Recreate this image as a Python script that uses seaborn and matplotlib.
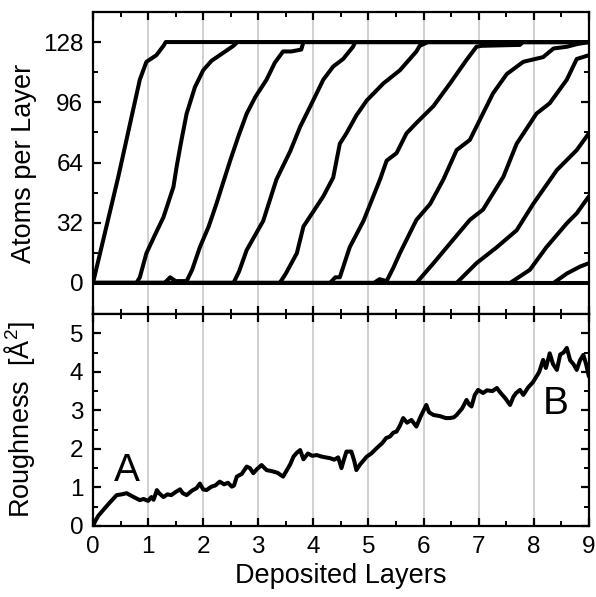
import numpy as np
import pandas as pd
import matplotlib
matplotlib.use("Agg")
import matplotlib.pyplot as plt
import seaborn as sns

# ---------------- data ----------------
layer1_x = [0, 0.46, 0.85, 0.97, 1.15, 1.28, 1.32, 9]
layer1_y = [0, 56.5, 108, 117.5, 121, 126, 128, 128]
layer2_x = [0, 0.79, 0.85, 0.97, 1.1, 1.28, 1.46, 1.52, 1.6, 1.70, 1.85, 2.0, 2.15, 2.30, 2.45, 2.55, 2.62, 2.9, 9]
layer2_y = [0, 0, 3, 15.8, 24, 35, 51, 62, 75, 90, 104, 113, 118, 121, 124, 126, 128, 128, 128]
layer3_x = [0, 1.3, 1.4, 1.5, 1.70, 1.8, 1.94, 2.1, 2.24, 2.37, 2.49, 2.64, 2.79, 2.95, 3.15, 3.3, 3.45, 3.6, 3.78, 3.82, 9]
layer3_y = [0, 0, 3, 1, 1, 7, 19, 30, 42, 54, 65, 78, 90, 99, 108, 117, 123, 123, 124, 128, 128]
layer4_x = [0, 2.55, 2.65, 2.79, 3.09, 3.33, 3.58, 3.76, 3.94, 4.18, 4.36, 4.54, 4.72, 4.76, 9]
layer4_y = [0, 0, 6, 17.5, 33, 55, 70, 83, 93.6, 108, 115, 119, 125.5, 128, 128]
layer5_x = [0, 3.39, 3.5, 3.70, 3.82, 4.0, 4.18, 4.36, 4.48, 4.60, 4.78, 4.97, 5.27, 5.57, 5.87, 5.93, 6.08, 9]
layer5_y = [0, 0, 5, 15.8, 30, 38, 46, 56, 74, 79.5, 89, 97, 106, 113, 123, 126, 128, 128]
layer6_x = [0, 4.3, 4.4, 4.48, 4.66, 4.91, 5.21, 5.33, 5.51, 5.69, 5.87, 6.18, 6.48, 6.78, 6.96, 7.05, 7.75, 7.8, 9]
layer6_y = [0, 0, 3, 3, 19, 33, 55, 65, 69, 79.5, 85, 94, 106, 118.5, 125.5, 126, 126.5, 128, 128]
layer7_x = [0, 5.1, 5.2, 5.33, 5.45, 5.57, 5.87, 6.12, 6.36, 6.60, 6.84, 7.02, 7.26, 7.51, 7.81, 8.17, 8.36, 8.6, 8.8, 9]
layer7_y = [0, 0, 2, 1, 8, 15.8, 33.5, 42, 55, 70.6, 76, 86.6, 100.7, 111, 117.5, 120, 124.6, 125.5, 127, 128]
layer8_x = [0, 5.87, 6.18, 6.48, 6.84, 7.08, 7.45, 7.69, 8.05, 8.29, 8.6, 8.78, 9]
layer8_y = [0, 0, 10.5, 21, 33.5, 39, 56.5, 74, 90, 95.5, 108, 119, 121]
layer9_x = [0, 6.60, 6.96, 7.33, 7.69, 7.99, 8.42, 8.78, 9]
layer9_y = [0, 0, 10.5, 19, 28, 42, 60, 70.6, 79.5]
layer10_x = [0, 7.57, 7.93, 8.23, 8.6, 8.78, 9]
layer10_y = [0, 0, 7, 19, 31.7, 37, 46]
layer11_x = [0, 8.36, 8.6, 8.84, 9]
layer11_y = [0, 0, 5, 8.7, 10.5]
layer12_x = [0, 9]
layer12_y = [0, 0]

rough_x = [0, 0.05, 0.1, 0.19, 0.3, 0.43, 0.52, 0.61, 0.7, 0.78, 0.85, 0.92, 1.0, 1.06, 1.1, 1.16, 1.2, 1.28,
           1.35, 1.42, 1.5, 1.58, 1.63, 1.7, 1.8, 1.88, 1.94, 2.0, 2.06, 2.15, 2.22, 2.3, 2.38, 2.45, 2.52, 2.56,
           2.61, 2.7, 2.79, 2.85, 2.91, 2.98, 3.06, 3.15, 3.25, 3.35, 3.45, 3.52, 3.58, 3.64, 3.7, 3.76, 3.82,
           3.9, 3.98, 4.06, 4.15, 4.22, 4.3, 4.38, 4.45, 4.51, 4.55, 4.6, 4.69, 4.74, 4.78, 4.85, 4.97, 5.05,
           5.15, 5.25, 5.32, 5.39, 5.45, 5.51, 5.57, 5.63, 5.7, 5.78, 5.87, 5.95, 6.05, 6.1, 6.18, 6.3, 6.4,
           6.48, 6.55, 6.6, 6.7, 6.78, 6.83, 6.87, 6.93, 6.99, 7.08, 7.15, 7.25, 7.33, 7.4, 7.48, 7.57, 7.63,
           7.68, 7.75, 7.81, 7.9, 7.98, 8.05, 8.1, 8.17, 8.22, 8.29, 8.35, 8.42, 8.48, 8.54, 8.6, 8.66, 8.72,
           8.78, 8.84, 8.9, 8.95, 9.0]
rough_y = [0, 0.15, 0.27, 0.42, 0.6, 0.8, 0.82, 0.85, 0.78, 0.72, 0.67, 0.7, 0.65, 0.75, 0.68, 0.93, 0.85, 0.75,
           0.82, 0.8, 0.88, 0.95, 0.85, 0.8, 0.92, 0.98, 1.1, 0.95, 0.93, 1.02, 1.05, 1.15, 1.08, 1.12, 1.02, 1.05,
           1.28, 1.35, 1.54, 1.5, 1.37, 1.48, 1.58, 1.45, 1.42, 1.38, 1.28, 1.45, 1.6, 1.8, 1.9, 1.97, 1.73,
           1.88, 1.82, 1.84, 1.8, 1.78, 1.76, 1.72, 1.78, 1.5, 1.7, 1.93, 1.93, 1.7, 1.45, 1.6, 1.8, 1.88,
           2.02, 2.15, 2.28, 2.32, 2.42, 2.45, 2.6, 2.8, 2.68, 2.75, 2.58, 2.85, 3.14, 2.95, 2.88, 2.85, 2.8,
           2.8, 2.82, 2.88, 3.05, 3.27, 3.15, 3.1, 3.4, 3.53, 3.45, 3.52, 3.5, 3.58, 3.45, 3.32, 3.14, 3.35,
           3.45, 3.53, 3.4, 3.6, 3.72, 3.88, 4.0, 4.31, 4.1, 4.48, 4.2, 4.05, 4.45, 4.5, 4.62, 4.3, 4.2,
           4.05, 4.3, 4.44, 4.2, 3.88]

x_ticks = [0, 1, 2, 3, 4, 5, 6, 7, 8, 9]
atoms_ticks = [0, 32, 64, 96, 128]
rough_ticks = [0, 1, 2, 3, 4, 5]

layers_x = [layer1_x, layer2_x, layer3_x, layer4_x, layer5_x, layer6_x, layer7_x, layer8_x,
            layer9_x, layer10_x, layer11_x, layer12_x]
layers_y = [layer1_y, layer2_y, layer3_y, layer4_y, layer5_y, layer6_y, layer7_y, layer8_y,
            layer9_y, layer10_y, layer11_y, layer12_y]

# ---------------- style ----------------
sns.set_style("ticks")
plt.rcParams['font.family'] = ['Liberation Sans', 'DejaVu Sans']
plt.rcParams['mathtext.fontset'] = 'custom'
plt.rcParams['mathtext.rm'] = 'Liberation Sans'
for k in ['text.color', 'axes.labelcolor', 'xtick.color', 'ytick.color', 'axes.edgecolor']:
    plt.rcParams[k] = 'black'

fig = plt.figure(figsize=(5.96, 5.97), dpi=100)
ax1 = fig.add_axes([0.156, 0.474, 0.832, 0.506])
ax2 = fig.add_axes([0.156, 0.119, 0.832, 0.355])

grid_c = '#cfcfd6'
for ax in (ax1, ax2):
    for xv in x_ticks[1:-1]:
        ax.axvline(xv, color=grid_c, lw=1.4, zorder=0)

rows = []
for i, (xs, ys) in enumerate(zip(layers_x, layers_y)):
    for xv, yv in zip(xs, ys):
        rows.append((i, xv, yv))
df = pd.DataFrame(rows, columns=['layer', 'x', 'y'])
sns.lineplot(data=df, x='x', y='y', units='layer', estimator=None, sort=False,
             color='black', linewidth=2.9, ax=ax1, zorder=3)

rdf = pd.DataFrame({'x': rough_x, 'y': rough_y})
sns.lineplot(data=rdf, x='x', y='y', estimator=None, sort=False, color='black', linewidth=2.9,
             ax=ax2, zorder=3)

for ax in (ax1, ax2):
    ax.set_xlim(0, 9)
    for s in ax.spines.values():
        s.set_linewidth(1.6)
        s.set_color('black')
    ax.set_xticks(x_ticks)
    ax.set_xticks(np.arange(0.5, 9, 1.0), minor=True)
    ax.tick_params(which='major', direction='in', length=6, width=1.6, top=True, right=True,
                   labelsize=17.5, pad=7, colors='black')
    ax.tick_params(which='minor', direction='in', length=3.5, width=1.4, top=True, right=True,
                   colors='black')

ax1.set_ylim(-16.5, 144)
ax1.set_yticks(atoms_ticks)
ax1.set_yticks([16, 48, 80, 112], minor=True)
ax1.tick_params(labelbottom=False)
ax1.set_xlabel('')
ax1.set_ylabel('Atoms per Layer', fontsize=19.5)
ax1.yaxis.set_label_coords(-0.112, 0.5)

ax2.set_ylim(0, 5.5)
ax2.set_yticks(rough_ticks)
ax2.set_yticks([0.5, 1.5, 2.5, 3.5, 4.5], minor=True)
ax2.set_xlabel('Deposited Layers', fontsize=19.5, labelpad=4)
ax2.set_ylabel('Roughness  [Å$^{2}$]', fontsize=19.5)
ax2.yaxis.set_label_coords(-0.112, 0.5)

ax2.text(0.62, 1.43, 'A', fontsize=28, ha='center', va='center')
ax2.text(8.4, 3.17, 'B', fontsize=28, ha='center', va='center')

fig.savefig('out.png', dpi=100)
